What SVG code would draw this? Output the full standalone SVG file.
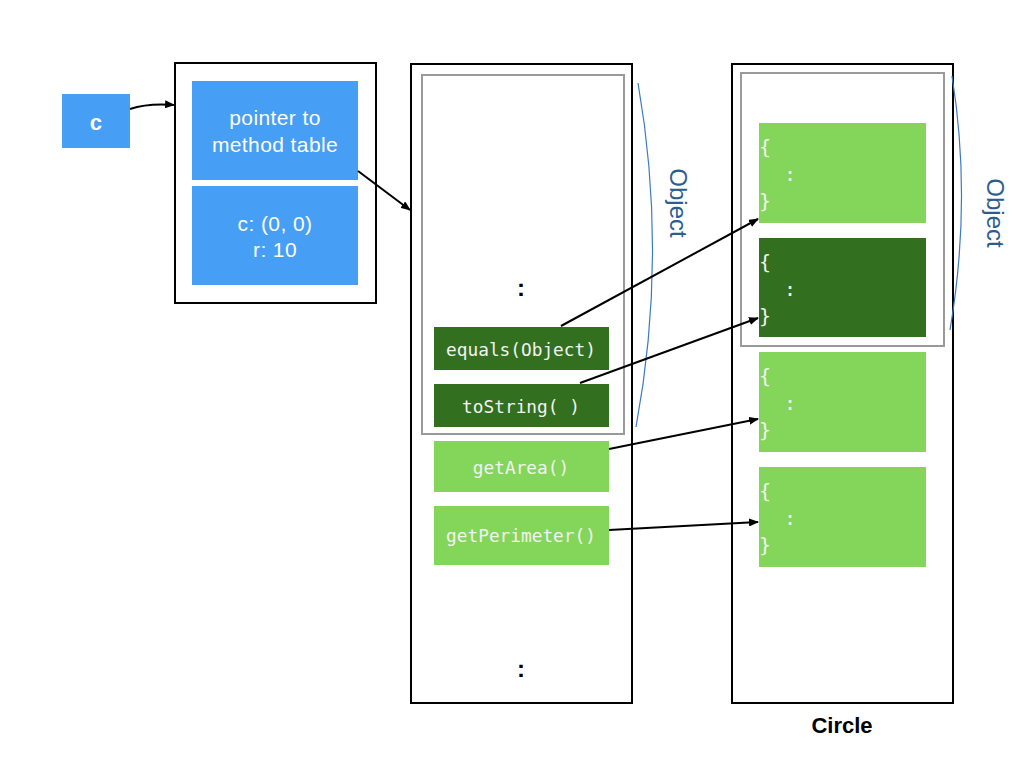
<svg xmlns="http://www.w3.org/2000/svg" width="1024" height="768" viewBox="0 0 1024 768">
<style>
.frame{fill:#fff;stroke:#000;stroke-width:2}
.inner{fill:none;stroke:#9a9a9a;stroke-width:2}
.blue{fill:#479ef5}
.lg{fill:#84d65a}
.dg{fill:#326f1f}
.sans{font-family:"Liberation Sans",Arial,sans-serif;fill:#fff;font-size:21px;letter-spacing:0.4px;text-anchor:middle}
.mono{font-family:"DejaVu Sans Mono","Liberation Mono",monospace;fill:#f2f2f2;font-size:17.8px;text-anchor:middle}
.brace{font-family:"DejaVu Sans Mono","Liberation Mono",monospace;fill:#f2f2f2;font-size:20px}
.dots{font-family:"Liberation Sans",Arial,sans-serif;font-weight:bold;font-size:24px;text-anchor:middle;fill:#000}
.objlbl{font-family:"Liberation Sans",Arial,sans-serif;font-size:24px;fill:#2c5d8f;text-anchor:middle}
.bracket{fill:none;stroke:#3a7ac4;stroke-width:1.2}
.conn{fill:none;stroke:#000;stroke-width:2;marker-end:url(#ah)}
</style>
<defs>
<marker id="ah" markerWidth="10" markerHeight="8" refX="9" refY="4" orient="auto" markerUnits="userSpaceOnUse">
<path d="M0,0 L10,4 L0,8 Z" fill="#000"/>
</marker>
</defs>
<rect width="1024" height="768" fill="#fff"/>

<g id="var-c">
<rect class="blue" x="62" y="94" width="68" height="54"/>
<text class="sans" x="96" y="130" style="font-size:22px;font-weight:bold">c</text>
</g>

<g id="circle-object">
<rect class="frame" x="175" y="63" width="201" height="240"/>
<rect class="blue" x="192" y="81" width="166" height="99"/>
<text class="sans" x="275" y="125">pointer to</text>
<text class="sans" x="275" y="152">method table</text>
<rect class="blue" x="192" y="186" width="166" height="99"/>
<text class="sans" x="275" y="231">c: (0, 0)</text>
<text class="sans" x="275" y="257">r: 10</text>
</g>

<g id="method-table">
<rect class="frame" x="411" y="64" width="221" height="639"/>
<rect class="inner" x="422" y="75" width="202" height="359"/>
<text class="dots" x="521" y="296">:</text>
<rect class="dg" x="434" y="327" width="175" height="43"/>
<text class="mono" x="521" y="356">equals(Object)</text>
<rect class="dg" x="434" y="384" width="175" height="43"/>
<text class="mono" x="521" y="413">toString( )</text>
<rect class="lg" x="434" y="441" width="175" height="51"/>
<text class="mono" x="521" y="474">getArea()</text>
<rect class="lg" x="434" y="506" width="175" height="59"/>
<text class="mono" x="521" y="542">getPerimeter()</text>
<text class="dots" x="521" y="677">:</text>
<path class="bracket" d="M638,83 Q668,255 636,427"/>
<text class="objlbl" transform="translate(670,203) rotate(90)">Object</text>
</g>

<g id="circle-class">
<rect class="frame" x="732" y="64" width="221" height="639"/>
<rect class="inner" x="741" y="73" width="203" height="273"/>
<rect class="lg" x="759" y="123" width="167" height="100"/>
<text class="brace" x="759" y="154">{</text>
<text class="brace" x="784" y="181">:</text>
<text class="brace" x="759" y="208">}</text>
<rect class="dg" x="759" y="238" width="167" height="99"/>
<text class="brace" x="759" y="269">{</text>
<text class="brace" x="784" y="296">:</text>
<text class="brace" x="759" y="323">}</text>
<rect class="lg" x="759" y="352" width="167" height="100"/>
<text class="brace" x="759" y="383">{</text>
<text class="brace" x="784" y="410">:</text>
<text class="brace" x="759" y="437">}</text>
<rect class="lg" x="759" y="467" width="167" height="100"/>
<text class="brace" x="759" y="498">{</text>
<text class="brace" x="784" y="525">:</text>
<text class="brace" x="759" y="552">}</text>
<path class="bracket" d="M952,76 Q972,200 950,330"/>
<text class="objlbl" transform="translate(987,213) rotate(90)">Object</text>
<text x="842" y="733" style="font-family:'Liberation Sans',Arial,sans-serif;font-weight:bold;font-size:22px;text-anchor:middle;fill:#000">Circle</text>
</g>

<g id="connectors">
<path class="conn" d="M130,109 Q148,103 174,105"/>
<path class="conn" d="M358,171 L410,210"/>
<path class="conn" d="M561,326 L758,219"/>
<path class="conn" d="M580,383 L758,318"/>
<path class="conn" d="M609,449 L758,419"/>
<path class="conn" d="M609,530 L758,522"/>
</g>
</svg>
